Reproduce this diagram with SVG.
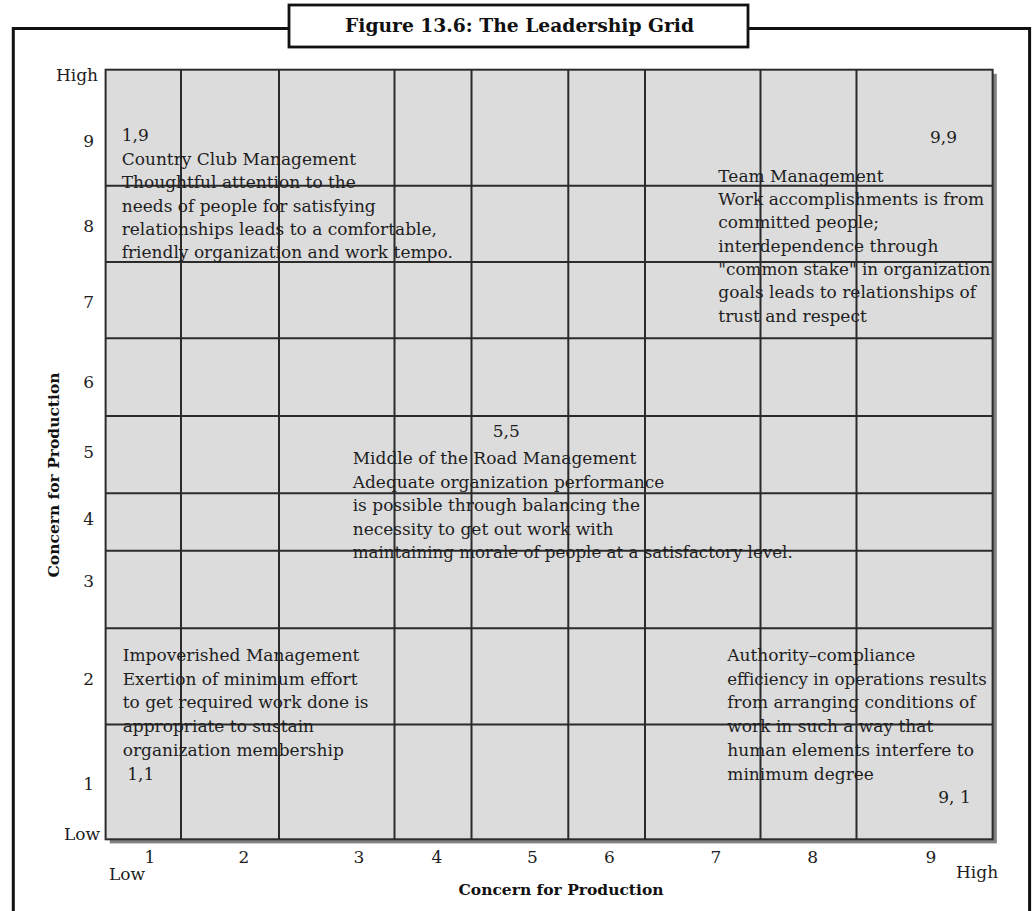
<svg xmlns="http://www.w3.org/2000/svg" width="1034" height="911" viewBox="0 0 1034 911">
<style>
.t{font-family:"DejaVu Serif","Liberation Serif",serif;font-size:17px;fill:#1e1e1e}
.b{font-family:"DejaVu Serif","Liberation Serif",serif;font-weight:bold;fill:#111}
.g{stroke:#2b2b2b;stroke-width:2;fill:none}
.ax{text-anchor:end}
.xc{text-anchor:middle}
</style>
<rect width="1034" height="911" fill="#fff"/>
<g id="frame">
<rect x="13.3" y="28.5" width="1016.3" height="900" fill="none" stroke="#111" stroke-width="3"/>
<rect x="289" y="5" width="459" height="42" fill="#fff" stroke="#111" stroke-width="2.8"/>
<text class="b" x="345" y="31.5" font-size="18.5" textLength="349" lengthAdjust="spacingAndGlyphs">Figure 13.6: The Leadership Grid</text>
</g>
<g id="grid">
<rect x="109.8" y="73.8" width="887" height="769.6" fill="#808080"/>
<rect x="105.6" y="69.7" width="887" height="769.6" fill="#dcdcdc"/>
<g class="g">
<path d="M181 69.7V839.3M279 69.7V839.3M394.5 69.7V839.3M471.5 69.7V839.3M568.3 69.7V839.3M645 69.7V839.3M760.5 69.7V839.3M856.5 69.7V839.3"/>
<path d="M105.6 185.7H992.6M105.6 262H992.6M105.6 338.3H992.6M105.6 416H992.6M105.6 493.3H992.6M105.6 550.7H992.6M105.6 628.3H992.6M105.6 724.5H992.6"/>
<rect x="105.6" y="69.7" width="887" height="769.6"/>
</g>
</g>
<g id="y-axis">
<text class="t ax" x="98" y="81">High</text>
<text class="t ax" x="94" y="147">9</text>
<text class="t ax" x="94" y="232">8</text>
<text class="t ax" x="94" y="308">7</text>
<text class="t ax" x="94" y="388">6</text>
<text class="t ax" x="94" y="458">5</text>
<text class="t ax" x="94" y="525">4</text>
<text class="t ax" x="94" y="587">3</text>
<text class="t ax" x="94" y="685">2</text>
<text class="t ax" x="94" y="790">1</text>
<text class="t ax" x="100" y="840">Low</text>
<text class="b xc" transform="translate(58.5 475) rotate(-90)" font-size="15.5">Concern for Production</text>
</g>
<g id="x-axis">
<text class="t xc" x="150" y="862.7">1</text>
<text class="t xc" x="244" y="862.7">2</text>
<text class="t xc" x="359" y="862.7">3</text>
<text class="t xc" x="437" y="862.7">4</text>
<text class="t xc" x="532.5" y="862.7">5</text>
<text class="t xc" x="609.5" y="862.7">6</text>
<text class="t xc" x="716" y="862.7">7</text>
<text class="t xc" x="812.7" y="862.7">8</text>
<text class="t xc" x="931" y="862.7">9</text>
<text class="t" x="109" y="880">Low</text>
<text class="t" x="956" y="878">High</text>
<text class="b xc" x="561" y="895" font-size="15.5">Concern for Production</text>
</g>
<g id="country-club">
<text class="t" x="121.7" y="141">1,9</text>
<text class="t" x="121.7" y="165.2">Country Club Management</text>
<text class="t" x="121.7" y="188.4">Thoughtful attention to the</text>
<text class="t" x="121.7" y="211.6">needs of people for satisfying</text>
<text class="t" x="121.7" y="234.8">relationships leads to a comfortable,</text>
<text class="t" x="121.7" y="258">friendly organization and work tempo.</text>
</g>
<g id="team">
<text class="t" x="930" y="143.3">9,9</text>
<text class="t" x="718.3" y="181.7">Team Management</text>
<text class="t" x="718.3" y="205">Work accomplishments is from</text>
<text class="t" x="718.3" y="228.3">committed people;</text>
<text class="t" x="718.3" y="251.7">interdependence through</text>
<text class="t" x="718.3" y="275" textLength="272" lengthAdjust="spacingAndGlyphs">"common stake" in organization</text>
<text class="t" x="718.3" y="298.3">goals leads to relationships of</text>
<text class="t" x="718.3" y="321.7">trust and respect</text>
</g>
<g id="middle">
<text class="t" x="492.7" y="436.7">5,5</text>
<text class="t" x="352.7" y="464">Middle of the Road Management</text>
<text class="t" x="352.7" y="487.5">Adequate organization performance</text>
<text class="t" x="352.7" y="511">is possible through balancing the</text>
<text class="t" x="352.7" y="534.5">necessity to get out work with</text>
<text class="t" x="352.7" y="558" textLength="440" lengthAdjust="spacingAndGlyphs">maintaining morale of people at a satisfactory level.</text>
</g>
<g id="impoverished">
<text class="t" x="122.7" y="660.7">Impoverished Management</text>
<text class="t" x="122.7" y="685">Exertion of minimum effort</text>
<text class="t" x="122.7" y="708.3">to get required work done is</text>
<text class="t" x="122.7" y="731.7">appropriate to sustain</text>
<text class="t" x="122.7" y="756">organization membership</text>
<text class="t" x="127.3" y="780">1,1</text>
</g>
<g id="authority">
<text class="t" x="727.3" y="660.7">Authority–compliance</text>
<text class="t" x="727.3" y="685" textLength="259.4" lengthAdjust="spacingAndGlyphs">efficiency in operations results</text>
<text class="t" x="727.3" y="708.3">from arranging conditions of</text>
<text class="t" x="727.3" y="731.7">work in such a way that</text>
<text class="t" x="727.3" y="756">human elements interfere to</text>
<text class="t" x="727.3" y="780">minimum degree</text>
<text class="t" x="938.3" y="803.3">9, 1</text>
</g>
</svg>
